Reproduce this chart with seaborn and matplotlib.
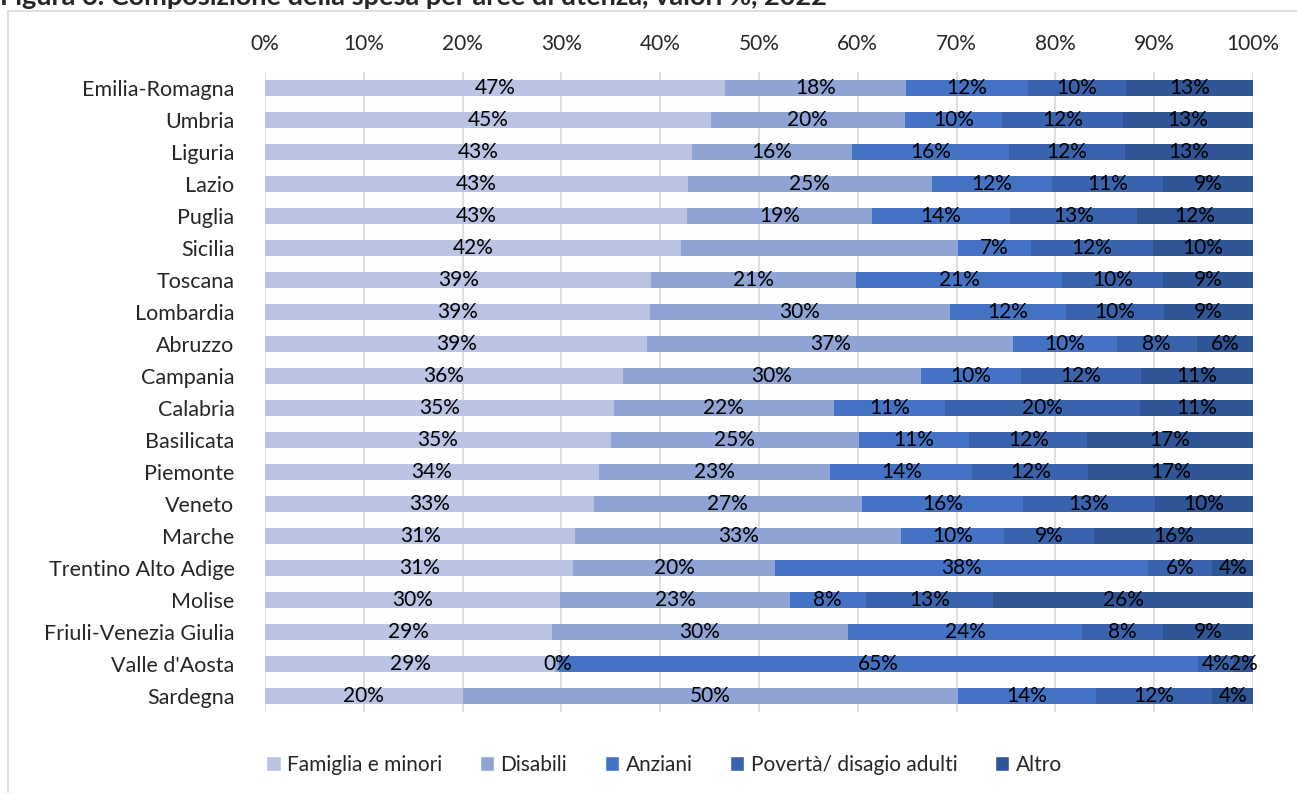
import pandas as pd
import matplotlib.pyplot as plt
import seaborn as sns
from matplotlib.patches import Rectangle, Patch

regions = ["Emilia-Romagna", "Umbria", "Liguria", "Lazio", "Puglia", "Sicilia", "Toscana",
           "Lombardia", "Abruzzo", "Campania", "Calabria", "Basilicata", "Piemonte", "Veneto",
           "Marche", "Trentino Alto Adige", "Molise", "Friuli-Venezia Giulia", "Valle d'Aosta",
           "Sardegna"]
famiglia = [46.6, 45.1, 43.2, 42.8, 42.7, 42.1, 39.1, 39.0, 38.7, 36.2, 35.3, 35.0, 33.8, 33.3,
            31.4, 31.2, 29.9, 29.0, 29.4, 20.0]
disabili = [18.3, 19.7, 16.2, 24.7, 18.7, 28.0, 20.7, 30.3, 37.0, 30.2, 22.3, 25.1, 23.4, 27.1,
            33.0, 20.4, 23.2, 30.0, 0.4, 50.1]
anziani = [12.3, 9.8, 15.9, 12.2, 14.0, 7.4, 20.9, 11.8, 10.5, 10.1, 11.2, 11.2, 14.4, 16.3,
           10.4, 37.8, 7.7, 23.7, 64.6, 14.0]
poverta = [9.9, 12.2, 11.7, 11.2, 12.9, 12.4, 10.2, 9.9, 8.1, 12.2, 19.8, 11.9, 11.7, 13.4,
           9.1, 6.5, 12.9, 8.2, 3.7, 11.8]
altro = [12.9, 13.2, 13.0, 9.1, 11.7, 10.1, 9.1, 9.0, 5.7, 11.3, 11.4, 16.8, 16.7, 9.9,
         16.1, 4.1, 26.3, 9.1, 1.9, 4.1]

series = ["Famiglia e minori", "Disabili", "Anziani", "Povertà/ disagio adulti", "Altro"]
colors = ["#BAC3E3", "#8FA3D4", "#4472C4", "#3A63AD", "#2F5597"]

df = pd.DataFrame({"regione": regions, "Famiglia e minori": famiglia, "Disabili": disabili,
                   "Anziani": anziani, "Povertà/ disagio adulti": poverta, "Altro": altro})
cum = df[series].cumsum(axis=1)

sns.set_style("white")
plt.rcParams['font.family'] = ['Lato', 'DejaVu Sans']

fig = plt.figure(figsize=(12.97, 7.93), dpi=100)
ax = fig.add_axes([265 / 1297, 1 - 712 / 793, (1253 - 265) / 1297, 640 / 793])

# stacked bars: draw cumulative totals from the last series back to the first
for s, c in reversed(list(zip(series, colors))):
    sns.barplot(x=cum[s], y=df["regione"], color=c, width=0.48, ax=ax,
                orient="h", saturation=1, linewidth=0)

for i in range(len(df)):
    left = 0
    for s in series:
        v = df.loc[i, s]
        # Sicilia has no label on the Disabili segment in the original
        if not (df.loc[i, "regione"] == "Sicilia" and s == "Disabili"):
            ax.text(left + v / 2, i, f"{round(v):.0f}%", ha="center", va="center",
                    fontsize=15, color="black")
        left += v

ax.set_xlim(0, 100)
ax.set_ylim(len(df) - 0.5, -0.5)
ax.set_xticks(range(0, 101, 10))
ax.set_xticklabels([f"{t}%" for t in range(0, 101, 10)], fontsize=15)
ax.xaxis.tick_top()
ax.tick_params(axis="x", length=0, pad=13)
ax.tick_params(axis="y", length=0, pad=22, labelsize=15.5)
ax.set_xlabel("")
ax.set_ylabel("")
ax.grid(axis="x", color="#D9D9D9", linewidth=1.2)
ax.set_axisbelow(True)
for sp in ax.spines.values():
    sp.set_visible(False)

handles = [Patch(facecolor=c, label=s) for s, c in zip(series, colors)]
fig.legend(handles=handles, loc="center", bbox_to_anchor=(664 / 1297, 1 - 765 / 793), ncol=5,
           frameon=False, fontsize=15, handlelength=0.7, handleheight=0.7,
           handletextpad=0.3, columnspacing=1.8)

fig.patches.append(Rectangle((8 / 1297, -0.01), 1.0, 1 - 11 / 793 + 0.01,
                             transform=fig.transFigure, fill=False,
                             edgecolor="#D9D9D9", linewidth=1.2))
fig.text(0.0, 1 - 5 / 793, "Figura 6. Composizione della spesa per aree di utenza, valori %, 2022",
         fontsize=19.5, fontweight="bold", va="baseline", ha="left")

fig.savefig("out.png", dpi=100)
